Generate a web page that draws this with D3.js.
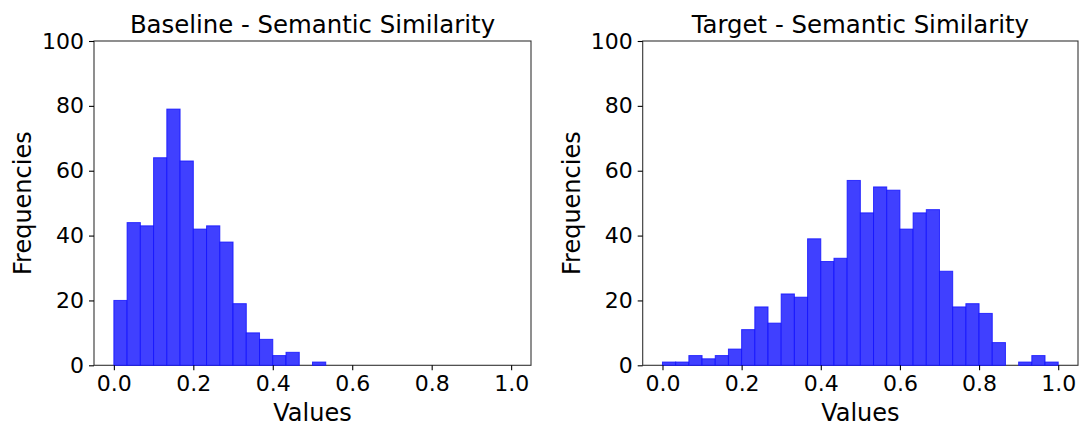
<!DOCTYPE html>
<html>
<head>
<meta charset="utf-8">
<script src="https://cdn.jsdelivr.net/npm/d3@7/dist/d3.min.js"></script>
<style>
  html, body { margin: 0; padding: 0; background: #fff; }
  svg { display: block; font-family: "DejaVu Sans", sans-serif; }
</style>
</head>
<body>
<svg id="chart" width="1081" height="426"></svg>
<script>
// Histogram counts per bin (30 equal bins over [0, 1])
const binCount = 30;
const binRange = [0, 1];
const baselineCounts = [20, 44, 43, 64, 79, 63, 42, 43, 38, 19, 10, 8, 3, 4, 0, 1,
                        0, 0, 0, 0, 0, 0, 0, 0, 0, 0, 0, 0, 0, 0];
const targetCounts = [1, 1, 3, 2, 3, 5, 11, 18, 13, 22, 21, 39, 32, 33, 57, 47, 55, 54,
                      42, 47, 48, 29, 18, 19, 16, 7, 0, 1, 3, 1];
const panelTitles = ["Baseline - Semantic Similarity", "Target - Semantic Similarity"];
const xTickValues = [0.0, 0.2, 0.4, 0.6, 0.8, 1.0];
const yTickValues = [0, 20, 40, 60, 80, 100];
const xLabel = "Values";
const yLabel = "Frequencies";

const svg = d3.select("#chart");
const edges = d3.range(binCount + 1).map(i => binRange[0] + (binRange[1] - binRange[0]) * i / binCount);

const panels = [
  { title: panelTitles[0], counts: baselineCounts, left: 94, right: 531 },
  { title: panelTitles[1], counts: targetCounts, left: 642.7, right: 1078 }
];
const plotTop = 41, plotBottom = 365.3;

panels.forEach(p => {
  const x = d3.scaleLinear().domain([-0.05, 1.05]).range([p.left, p.right]);
  const y = d3.scaleLinear().domain([0, 100]).range([plotBottom, plotTop]);
  const g = svg.append("g");

  // frame
  g.append("rect")
    .attr("x", p.left).attr("y", plotTop)
    .attr("width", p.right - p.left).attr("height", plotBottom - plotTop)
    .attr("fill", "none").attr("stroke", "#333").attr("stroke-width", 1.1);

  // bars (drawn over the frame so empty bins leave a thin blue line on the baseline)
  const bins = p.counts.map((c, i) => ({ x0: edges[i], x1: edges[i + 1], count: c }));
  g.append("g").selectAll("rect").data(bins).join("rect")
    .attr("x", d => x(d.x0))
    .attr("width", d => x(d.x1) - x(d.x0))
    .attr("y", d => y(d.count))
    .attr("height", d => y(0) - y(d.count))
    .attr("fill", "rgb(64,64,255)")
    .attr("stroke", "rgb(16,16,255)")
    .attr("stroke-opacity", 0.8)
    .attr("stroke-width", 1);

  // x axis
  const xAxis = d3.axisBottom(x).tickValues(xTickValues).tickFormat(d3.format(".1f"))
    .tickSize(5).tickPadding(5);
  const gx = g.append("g").attr("transform", `translate(0,${plotBottom})`).call(xAxis);
  gx.select(".domain").remove();
  gx.selectAll("text").attr("font-size", 22).attr("fill", "#000")
    .attr("font-family", "DejaVu Sans, sans-serif");
  gx.selectAll("line").attr("stroke", "#000").attr("stroke-width", 1.1);

  // y axis
  const yAxis = d3.axisLeft(y).tickValues(yTickValues).tickSize(5).tickPadding(5);
  const gy = g.append("g").attr("transform", `translate(${p.left},0)`).call(yAxis);
  gy.select(".domain").remove();
  gy.selectAll("text").attr("font-size", 22).attr("fill", "#000")
    .attr("font-family", "DejaVu Sans, sans-serif");
  gy.selectAll("line").attr("stroke", "#000").attr("stroke-width", 1.1);

  // title
  g.append("text")
    .attr("x", (p.left + p.right) / 2).attr("y", 33)
    .attr("text-anchor", "middle").attr("font-size", 24.4).attr("fill", "#000")
    .text(p.title);

  // axis labels
  g.append("text")
    .attr("x", (p.left + p.right) / 2).attr("y", 421)
    .attr("text-anchor", "middle").attr("font-size", 24).attr("fill", "#000")
    .text(xLabel);
  g.append("text")
    .attr("transform", `translate(${p.left - 63},${(plotTop + plotBottom) / 2}) rotate(-90)`)
    .attr("text-anchor", "middle").attr("font-size", 24).attr("fill", "#000")
    .text(yLabel);
});
</script>
</body>
</html>
